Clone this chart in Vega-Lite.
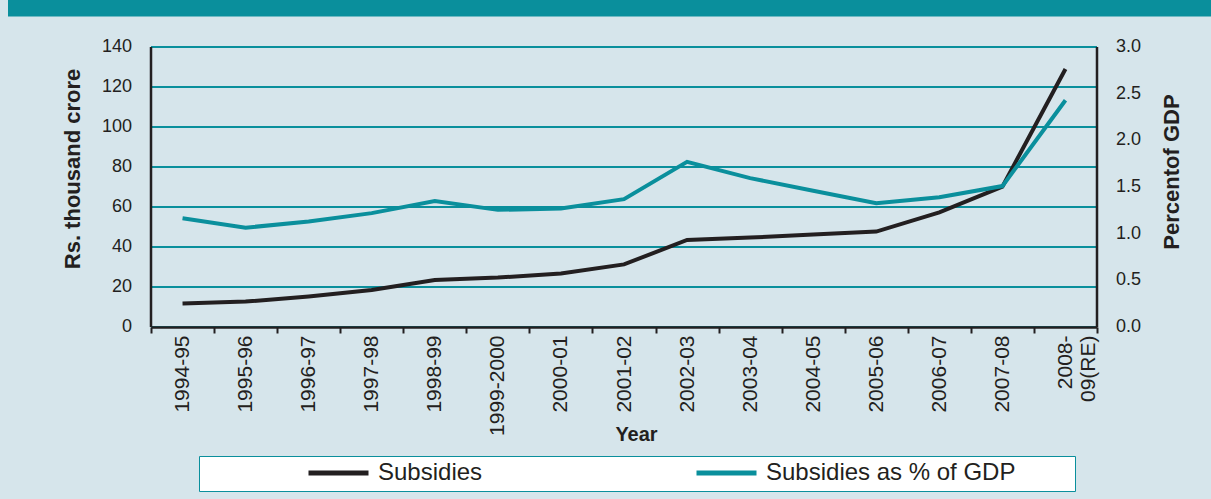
{
  "$schema": "https://vega.github.io/schema/vega-lite/v6.json",
  "width": 946,
  "height": 327,
  "autosize": {"type": "none"},
  "padding": {"left": 151, "top": 0, "right": 114, "bottom": 172},
  "background": "#d6e5eb",
  "config": {
    "font": "Liberation Sans",
    "view": {"stroke": null},
    "axis": {"labelColor": "#231f20", "titleColor": "#231f20", "domainColor": "#231f20", "tickColor": "#231f20"}
  },
  "data": {
    "values": [
      {"year": "1994-95", "subsidies": 11.8, "pct": 1.165},
      {"year": "1995-96", "subsidies": 12.7, "pct": 1.064},
      {"year": "1996-97", "subsidies": 15.3, "pct": 1.13},
      {"year": "1997-98", "subsidies": 18.5, "pct": 1.22},
      {"year": "1998-99", "subsidies": 23.5, "pct": 1.35},
      {"year": "1999-2000", "subsidies": 24.7, "pct": 1.255},
      {"year": "2000-01", "subsidies": 26.8, "pct": 1.27},
      {"year": "2001-02", "subsidies": 31.3, "pct": 1.37},
      {"year": "2002-03", "subsidies": 43.5, "pct": 1.77},
      {"year": "2003-04", "subsidies": 44.7, "pct": 1.595},
      {"year": "2004-05", "subsidies": 46.3, "pct": 1.46},
      {"year": "2005-06", "subsidies": 47.7, "pct": 1.325},
      {"year": "2006-07", "subsidies": 57.3, "pct": 1.39},
      {"year": "2007-08", "subsidies": 70.2, "pct": 1.51},
      {"year": "2008-09(RE)", "subsidies": 129.0, "pct": 2.43}
    ]
  },
  "encoding": {
    "x": {
      "field": "year",
      "type": "ordinal",
      "sort": null,
      "scale": {
        "type": "band",
        "paddingInner": 0,
        "paddingOuter": 0,
        "domain": ["1994-95", "1995-96", "1996-97", "1997-98", "1998-99", "1999-2000", "2000-01", "2001-02", "2002-03", "2003-04", "2004-05", "2005-06", "2006-07", "2007-08", "2008-09(RE)"]
      },
      "axis": {
        "title": "Year",
        "titleFontSize": 20,
        "titleFontWeight": "bold",
        "titleBaseline": "top",
        "titleX": 485,
        "titleY": 97,
        "labelAngle": -90,
        "labelFontSize": 21,
        "labelPadding": 2,
        "labelExpr": "datum.value == '2008-09(RE)' ? ['2008-', '09(RE)'] : datum.label",
        "tickBand": "extent",
        "tickSize": 6,
        "tickWidth": 2,
        "domainWidth": 2.5,
        "grid": false
      }
    }
  },
  "layer": [
    {
      "data": {"values": [{}]},
      "mark": {"type": "rule", "color": "#231f20", "strokeWidth": 2.5},
      "encoding": {
        "x": {"datum": "1994-95", "bandPosition": 0},
        "y": {"datum": 0, "type": "quantitative", "scale": {"domain": [0, 163.5]}, "axis": null},
        "y2": {"datum": 140}
      }
    },
    {
      "data": {"values": [{}]},
      "mark": {"type": "rule", "color": "#231f20", "strokeWidth": 2.5},
      "encoding": {
        "x": {"datum": "2008-09(RE)", "bandPosition": 1},
        "y": {"datum": 0, "type": "quantitative", "scale": {"domain": [0, 163.5]}, "axis": null},
        "y2": {"datum": 140}
      }
    },
    {
      "mark": {"type": "line", "strokeWidth": 4},
      "encoding": {
        "y": {
          "field": "subsidies",
          "type": "quantitative",
          "scale": {"domain": [0, 163.5]},
          "axis": {
            "title": "Rs. thousand crore",
            "titleFontSize": 22,
            "titleFontWeight": "bold",
            "titleAngle": 270,
            "titleBaseline": "bottom",
            "titleX": -66,
            "titleY": 169,
            "translate": 0,
            "values": [0, 20, 40, 60, 80, 100, 120, 140, 159.25],
            "labelExpr": "datum.value > 150 ? '' : datum.label",
            "labelFontSize": 18,
            "labelPadding": 19,
            "ticks": true,
            "tickSize": {"condition": {"test": "datum.value > 150", "value": 143}, "value": 0},
            "tickWidth": 17,
            "tickColor": "#0a8f9c",
            "domain": false,
            "grid": true,
            "gridColor": "#0a8f9c",
            "gridWidth": {"condition": {"test": "datum.value > 150", "value": 17}, "value": 2},
            "gridOpacity": 1
          }
        },
        "color": {
          "datum": "Subsidies",
          "type": "nominal",
          "scale": {"domain": ["Subsidies", "Subsidies as % of GDP"], "range": ["#231f20", "#0a8f9c"]},
          "legend": {
            "orient": "none",
            "legendX": 48,
            "legendY": 456,
            "direction": "horizontal",
            "columns": 2,
            "title": "\u200b\u00a0\u00a0\u00a0\u00a0\u00a0\u00a0\u00a0\u00a0\u00a0\u00a0\u00a0\u00a0\u00a0\u00a0\u00a0\u00a0\u00a0\u00a0\u200b",
            "titleOrient": "left",
            "titleFontSize": 20,
            "titlePadding": 0,
            "labelFontSize": 24,
            "labelColor": "#231f20",
            "labelLimit": 500,
            "labelOffset": 7,
            "labelExpr": "datum.label == 'Subsidies as % of GDP' ? datum.label + '\u00a0\u00a0\u00a0\u00a0\u00a0\u00a0\u00a0\u00a0\u200b' : datum.label",
            "symbolType": "stroke",
            "symbolSize": 3600,
            "symbolStrokeWidth": 5,
            "clipHeight": 22,
            "columnPadding": 211,
            "padding": 6,
            "fillColor": "#ffffff",
            "strokeColor": "#0a8f9c"
          }
        }
      }
    },
    {
      "mark": {"type": "line", "strokeWidth": 4},
      "encoding": {
        "y": {
          "field": "pct",
          "type": "quantitative",
          "scale": {"domain": [0, 3.50357]},
          "axis": {
            "orient": "right",
            "title": "Percentof GDP",
            "titleFontSize": 22,
            "titleFontWeight": "bold",
            "titleAngle": 270,
            "titleBaseline": "top",
            "titleX": 65,
            "titleY": 172,
            "translate": 0,
            "values": [0, 0.5, 1, 1.5, 2, 2.5, 3, 3.4125],
            "labelExpr": "datum.value > 3.2 ? '' : format(datum.value, '.1f')",
            "labelFontSize": 18,
            "labelPadding": 19,
            "ticks": true,
            "tickSize": {"condition": {"test": "datum.value > 3.2", "value": 120}, "value": 0},
            "tickWidth": 17,
            "tickColor": "#0a8f9c",
            "domain": false,
            "grid": false
          }
        },
        "color": {"datum": "Subsidies as % of GDP", "type": "nominal"}
      }
    }
  ],
  "resolve": {"scale": {"y": "independent"}}
}
